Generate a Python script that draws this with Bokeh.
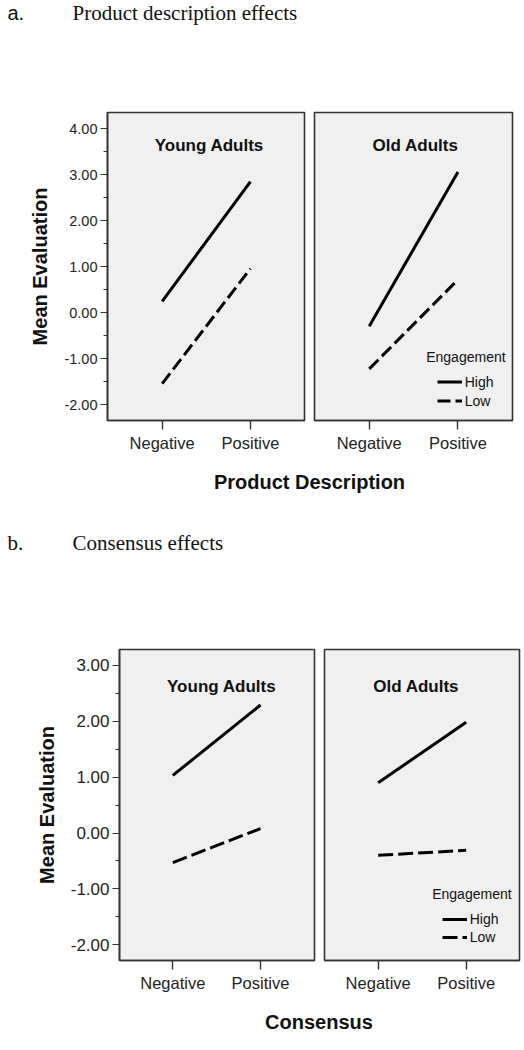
from bokeh.plotting import figure
from bokeh.models import Range1d, FixedTicker, NumeralTickFormatter, Label, Legend, LegendItem
from bokeh.layouts import column, row
from bokeh.embed import file_html
from bokeh.resources import INLINE

# ---------------- data ----------------
categories = ["Negative", "Positive"]
engagement = ["High", "Low"]
panel_titles = ["Young Adults", "Old Adults"]

# a. Product description effects
a_young_high = [0.25, 2.85]
a_young_low = [-1.54, 0.96]
a_old_high = [-0.29, 3.06]
a_old_low = [-1.22, 0.72]

# b. Consensus effects
b_young_high = [1.03, 2.29]
b_young_low = [-0.53, 0.08]
b_old_high = [0.90, 1.98]
b_old_low = [-0.40, -0.31]

a_yticks = [-2, -1, 0, 1, 2, 3, 4]
a_yminor = [-1.5, -0.5, 0.5, 1.5, 2.5, 3.5]
b_yticks = [-2, -1, 0, 1, 2, 3]
b_yminor = [-1.5, -0.5, 0.5, 1.5, 2.5]

SANS = "Liberation Sans"
SERIF = "Liberation Serif"
FRAME = "#333333"
BG = "#f0f0f0"
INK = "#111111"

xs = list(range(len(categories)))


def text_fig(width, height):
    p = figure(width=width, height=height, x_range=Range1d(0, 1), y_range=Range1d(0, 1),
               x_axis_location=None, y_axis_location=None, min_border=0,
               output_backend="svg", toolbar_location=None)
    p.outline_line_color = None
    p.background_fill_color = None
    p.border_fill_color = None
    p.title.visible = False
    for g in p.grid:
        g.visible = False
    return p


def panel(width, height, bl, br, bt, bb, xr, yr, yticks, yminor, show_y,
          ytick_fs, title, title_y, title_dx):
    p = figure(width=width, height=height, x_range=Range1d(*xr), y_range=Range1d(*yr),
               min_border_left=bl, min_border_right=br, min_border_top=bt, min_border_bottom=bb,
               y_axis_location="left" if show_y else None,
               output_backend="svg", toolbar_location=None)
    p.title.visible = False
    p.background_fill_color = BG
    p.border_fill_color = "white"
    p.outline_line_color = FRAME
    p.outline_line_width = 1.6
    p.xgrid.grid_line_color = None
    p.ygrid.grid_line_color = None

    xa = p.xaxis[0]
    xa.ticker = FixedTicker(ticks=xs)
    xa.major_label_overrides = {i: c for i, c in enumerate(categories)}
    xa.major_tick_in = 0
    xa.major_tick_out = 9
    xa.minor_tick_line_color = None
    xa.major_tick_line_color = FRAME
    xa.major_tick_line_width = 1.4
    xa.axis_line_color = FRAME
    xa.axis_line_width = 1.6
    xa.major_label_text_font = SANS
    xa.major_label_text_font_size = "16.5px"
    xa.major_label_text_color = "#222222"
    xa.major_label_standoff = 4

    if show_y:
        ya = p.yaxis[0]
        ya.ticker = FixedTicker(ticks=yticks, minor_ticks=yminor)
        ya.formatter = NumeralTickFormatter(format="0.00")
        ya.major_tick_in = 0
        ya.major_tick_out = 7
        ya.minor_tick_in = 0
        ya.minor_tick_out = 4
        ya.major_tick_line_color = FRAME
        ya.minor_tick_line_color = FRAME
        ya.axis_line_color = FRAME
        ya.axis_line_width = 1.6
        ya.major_label_text_font = SANS
        ya.major_label_text_font_size = ytick_fs
        ya.major_label_text_color = "#222222"
        ya.major_label_standoff = 3
        ya.axis_label = "Mean Evaluation"
        ya.axis_label_text_font = SANS
        ya.axis_label_text_font_size = "20px"
        ya.axis_label_text_font_style = "bold"
        ya.axis_label_text_color = INK
        ya.axis_label_standoff = 10

    p.add_layout(Label(x=0.5, y=title_y, text=title, x_offset=title_dx,
                       text_font=SANS, text_font_size="17px", text_font_style="bold",
                       text_color=INK, text_align="center", text_baseline="middle"))
    return p


def add_lines(p, high, low, dash):
    r_high = p.line(xs, high, line_width=3, line_color="black")
    r_low = p.line(xs, low, line_width=3, line_color="black", line_dash=dash)
    return r_high, r_low


def add_legend(p, rh, rl, lx, ly, tx, ty, pitch):
    leg = Legend(items=[LegendItem(label=engagement[0], renderers=[rh]),
                        LegendItem(label=engagement[1], renderers=[rl])],
                 location=(lx, ly), orientation="vertical",
                 glyph_width=25, glyph_height=pitch, label_height=pitch, label_width=20,
                 label_standoff=3, spacing=0, padding=0, margin=0,
                 border_line_color=None, background_fill_alpha=0,
                 label_text_font=SANS, label_text_font_size="14px", label_text_color=INK)
    p.add_layout(leg)
    p.add_layout(Label(x=tx, y=ty, x_units="screen", y_units="screen", text="Engagement",
                       text_font=SANS, text_font_size="14px", text_color=INK,
                       text_align="left", text_baseline="middle"))


# ---------------- a. ----------------
title_a = text_fig(524, 100)
title_a.add_layout(Label(x=7, y=88, x_units="screen", y_units="screen", text="a.",
                         text_font=SANS, text_font_size="20px", text_color=INK,
                         text_baseline="alphabetic"))
title_a.add_layout(Label(x=72, y=88, x_units="screen", y_units="screen",
                         text="Product description effects",
                         text_font=SERIF, text_font_size="21px", text_color=INK,
                         text_baseline="alphabetic"))

a_yr = (-2.341, 4.354)
pa1 = panel(309, 360, 107, 5, 12, 40, (-0.619, 1.612), a_yr, a_yticks, a_yminor, True,
            "14.5px", panel_titles[0], 3.64, 3)
add_lines(pa1, a_young_high, a_young_low, "13 5")
pa2 = panel(215, 360, 5, 12, 12, 40, (-0.617, 1.615), a_yr, a_yticks, a_yminor, False,
            "14.5px", panel_titles[1], 3.64, 2)
rh, rl = add_lines(pa2, a_old_high, a_old_low, "13 5")
add_legend(pa2, rh, rl, 122.7, 9.8, 111.7, 63.3, 19)

mid = text_fig(524, 160)
mid.add_layout(Label(x=309, y=139, x_units="screen", y_units="screen",
                     text="Product Description", text_font=SANS, text_font_size="20px",
                     text_font_style="bold", text_color=INK,
                     text_align="center", text_baseline="middle"))
mid.add_layout(Label(x=7, y=78, x_units="screen", y_units="screen", text="b.",
                     text_font=SERIF, text_font_size="21px", text_color=INK,
                     text_baseline="alphabetic"))
mid.add_layout(Label(x=72, y=78, x_units="screen", y_units="screen",
                     text="Consensus effects",
                     text_font=SERIF, text_font_size="21px", text_color=INK,
                     text_baseline="alphabetic"))

# ---------------- b. ----------------
b_yr = (-2.281, 3.283)
pb1 = panel(319, 380, 119, 5, 29, 40, (-0.608, 1.616), b_yr, b_yticks, b_yminor, True,
            "17px", panel_titles[0], 2.62, 5)
add_lines(pb1, b_young_high, b_young_low, "15 5")
pb2 = panel(205, 380, 5, 5, 29, 40, (-0.610, 1.606), b_yr, b_yticks, b_yminor, False,
            "17px", panel_titles[1], 2.62, -6)
rh2, rl2 = add_lines(pb2, b_old_high, b_old_low, "15 5")
add_legend(pb2, rh2, rl2, 117.7, 14.5, 107.7, 66.7, 18)

xlab_b = text_fig(524, 50)
xlab_b.add_layout(Label(x=318.5, y=28.3, x_units="screen", y_units="screen",
                        text="Consensus", text_font=SANS, text_font_size="20px",
                        text_font_style="bold", text_color=INK,
                        text_align="center", text_baseline="middle"))

layout = column(title_a, row(pa1, pa2), mid, row(pb1, pb2), xlab_b)

open("out.html", "w").write(file_html(layout, INLINE))
